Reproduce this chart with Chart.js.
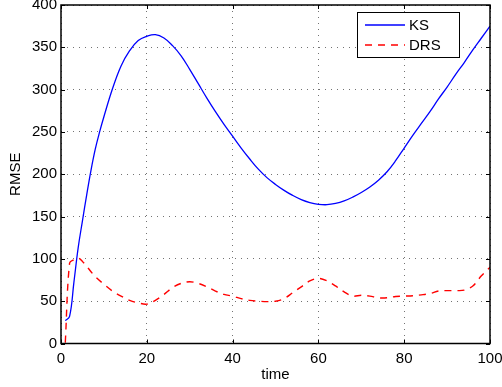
<!DOCTYPE html>
<html>
<head>
<meta charset="utf-8">
<script src="https://cdn.jsdelivr.net/npm/chart.js@4.4.1/dist/chart.umd.min.js"></script>
<style>
html,body{margin:0;padding:0;background:#fff;}
#wrap{width:502px;height:387px;position:relative;}
</style>
</head>
<body>
<div id="wrap"><canvas id="c"></canvas></div>
<script>
// ---- data ----
const ksTimes = [1,2,3,4,5,6,7,8,9,10,12,14,16,18,20,22,24,26,28,30,32,34,36,38,40,42,44,46,48,50,52,54,56,58,60,62,64,66,68,70,72,74,76,78,80,82,84,86,88,90,92,94,96,98,100];
const ksValues = [27,32,72,113,145,176,205,230,250,268,301,328,346,358,363,365,361,352,340,324,307,290,274,259,245,231,218,206,196,188,181,175,170,166.5,164.5,164,165.5,168.5,173,178.5,185,193,203,216,231,246,260,274,289,303,318,332,347,361,375];
const drsTimes = [1,2,3,4,5,6,8,10,12,14,16,18,20,22,24,26,28,30,32,34,36,38,40,42,44,46,48,50,52,54,56,58,60,62,64,66,68,70,72,74,76,78,80,82,84,86,88,90,92,94,96,98,100];
const drsValues = [1,95,99,101,97,91,79,70,62,56,51,48,46.5,51,58,66,71,73,71,67,62,58,56,53,51,50,49.5,50,53,60,67,74,77,74,68,61,56,57,56,54,54,55.5,56,56.5,57.5,59,62,62.5,62.5,63,68,80,90];
const seriesLabels = ['KS','DRS'];
const xLabel = 'time';
const yLabel = 'RMSE';
const xTicks = [0,20,40,60,80,100];
const yTicks = [0,50,100,150,200,250,300,350,400];

const FONT = '"Liberation Sans", Arial, Helvetica, sans-serif';

const toPts = (ts, vs) => ts.map((t, i) => ({x: t, y: vs[i]}));

const boxPlugin = {
  id: 'matlabBox',
  afterDatasetsDraw(chart) {
    const {ctx, chartArea: a, scales} = chart;
    ctx.save();
    ctx.strokeStyle = '#000';
    ctx.lineWidth = 1.5;
    ctx.strokeRect(a.left, a.top, a.right - a.left, a.bottom - a.top);
    ctx.lineWidth = 1;
    const tl = 4;
    ctx.beginPath();
    xTicks.forEach(v => {
      const px = Math.round(scales.x.getPixelForValue(v)) + 0.5;
      ctx.moveTo(px, a.bottom); ctx.lineTo(px, a.bottom - tl);
      ctx.moveTo(px, a.top); ctx.lineTo(px, a.top + tl);
    });
    yTicks.forEach(v => {
      const py = Math.round(scales.y.getPixelForValue(v)) + 0.5;
      ctx.moveTo(a.left, py); ctx.lineTo(a.left + tl, py);
      ctx.moveTo(a.right, py); ctx.lineTo(a.right - tl, py);
    });
    ctx.stroke();

    // legend
    const bx = 357, by = 12, bw = 102, bh = 45;
    ctx.fillStyle = '#fff';
    ctx.fillRect(bx, by, bw, bh);
    ctx.strokeStyle = '#000';
    ctx.lineWidth = 1;
    ctx.strokeRect(bx + 0.5, by + 0.5, bw, bh);
    chart.data.datasets.forEach((ds, i) => {
      const y = by + 13 + i * 20;
      ctx.beginPath();
      ctx.strokeStyle = ds.borderColor;
      ctx.lineWidth = ds.borderWidth;
      ctx.setLineDash(ds.borderDash || []);
      ctx.moveTo(365, y); ctx.lineTo(405, y);
      ctx.stroke();
      ctx.setLineDash([]);
      ctx.fillStyle = '#000';
      ctx.font = '15px ' + FONT;
      ctx.textBaseline = 'middle';
      ctx.textAlign = 'left';
      ctx.fillText(ds.label, 409, y + 1);
    });
    ctx.restore();
  }
};

const gridCommon = {
  color: 'rgba(0,0,0,0.55)',
  lineWidth: 1,
  drawTicks: false
};

new Chart(document.getElementById('c'), {
  type: 'line',
  data: {
    datasets: [
      {label: seriesLabels[0], data: toPts(ksTimes, ksValues), borderColor: '#0000ff', borderWidth: 1.3, pointRadius: 0, tension: 0.4, fill: false},
      {label: seriesLabels[1], data: toPts(drsTimes, drsValues), borderColor: '#ff0000', borderWidth: 1.4, borderDash: [7,6], pointRadius: 0, tension: 0.35, fill: false}
    ]
  },
  plugins: [boxPlugin],
  options: {
    responsive: true,
    maintainAspectRatio: false,
    animation: false,
    layout: {padding: {left: 0, right: 12, top: 5, bottom: 0}},
    plugins: {legend: {display: false}, tooltip: {enabled: false}},
    scales: {
      x: {
        type: 'linear', min: 0, max: 100,
        afterBuildTicks(s) { s.ticks = xTicks.map(v => ({value: v})); },
        afterFit(s) { s.height = 43.5; s.paddingLeft = 0; s.paddingRight = 0; },
        ticks: {color: '#000', padding: 6, maxRotation: 0, autoSkip: false, font: {family: FONT, size: 15}},
        grid: Object.assign({}, gridCommon),
        border: {display: false, dash: [1,5]},
        title: {display: true, text: xLabel, color: '#000', font: {family: FONT, size: 15}, padding: {top: 0, bottom: 3}}
      },
      y: {
        type: 'linear', min: 0, max: 400,
        afterBuildTicks(s) { s.ticks = yTicks.map(v => ({value: v})); },
        afterFit(s) { s.width = 61; s.paddingTop = 0; s.paddingBottom = 0; },
        ticks: {color: '#000', padding: 4, autoSkip: false, font: {family: FONT, size: 15}},
        grid: Object.assign({}, gridCommon),
        border: {display: false, dash: [1,5]},
        title: {display: true, text: yLabel, color: '#000', font: {family: FONT, size: 15}, padding: {top: 7, bottom: 0}}
      }
    }
  }
});
</script>
</body>
</html>
